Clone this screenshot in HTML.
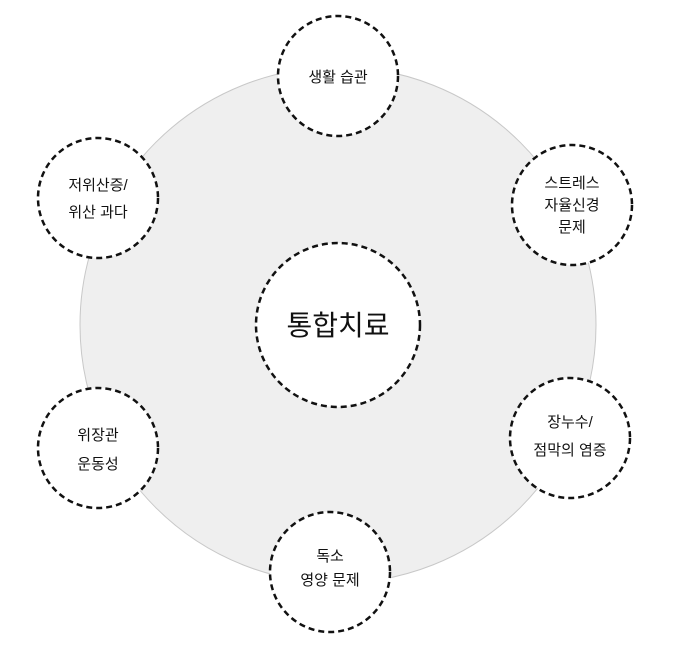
<!DOCTYPE html>
<html><head><meta charset="utf-8"><style>
body{margin:0;background:#fff;}
svg text{font-family:"Liberation Sans","Noto Sans CJK KR",sans-serif;fill:#111;text-anchor:middle;}
</style></head><body>
<svg width="680" height="650" viewBox="0 0 680 650" xmlns="http://www.w3.org/2000/svg">
<circle cx="338" cy="325" r="258" fill="#efefef" stroke="#c8c8c8" stroke-width="1"/>
<circle cx="338" cy="325" r="82" fill="#fff" stroke="#111" stroke-width="2.5" stroke-dasharray="6,4"/>
<text x="338" y="335" font-size="28">통합치료</text>
<g fill="#fff" stroke="#111" stroke-width="2.5" stroke-dasharray="6,4">
<circle cx="338" cy="76" r="60"/>
<circle cx="572" cy="205" r="60"/>
<circle cx="570" cy="438" r="60"/>
<circle cx="330" cy="572" r="60"/>
<circle cx="98" cy="448" r="60"/>
<circle cx="98" cy="198" r="60"/>
</g>
<g font-size="15">
<text x="338" y="82">생활 습관</text>
<text x="572" y="188">스트레스</text>
<text x="572" y="210">자율신경</text>
<text x="572" y="232">문제</text>
<text x="570" y="427">장누수/</text>
<text x="570" y="455">점막의 염증</text>
<text x="330" y="561">독소</text>
<text x="330" y="585">영양 문제</text>
<text x="98" y="440">위장관</text>
<text x="98" y="469">운동성</text>
<text x="98" y="190">저위산증/</text>
<text x="98" y="217">위산 과다</text>
</g>
</svg>
</body></html>
